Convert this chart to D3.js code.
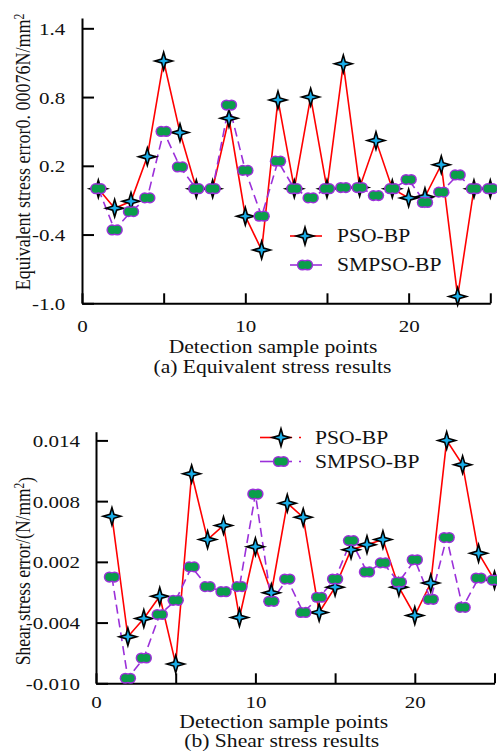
<!DOCTYPE html>
<html>
<head>
<meta charset="utf-8">
<script src="https://cdn.jsdelivr.net/npm/d3@7"></script>
<style>
  body { margin: 0; background: #fff; }
  text { font-family: "Liberation Serif", "Times New Roman", serif; fill: #111; }
</style>
</head>
<body>
<div id="Canvas"></div>
<script>
// sample points on x
let samplePoints = [1,2,3,4,5,6,7,8,9,10,11,12,13,14,15,16,17,18,19,20,21,22,23,24,25]

// (a) equivalent stress error
let equivPSO   = [0.0,-0.17,-0.11,0.28,1.115,0.49,0.0,0.0,0.615,-0.24,-0.535,0.775,0.0,0.80,0.0,1.09,0.01,0.42,0.0,-0.08,-0.07,0.21,-0.94,0.0,0.0]
let equivSMPSO = [0.0,-0.36,-0.20,-0.08,0.50,0.19,0.0,0.0,0.73,0.16,-0.24,0.24,0.0,-0.08,0.0,0.01,0.01,-0.06,0.0,0.08,-0.12,-0.03,0.12,0.0,0.0]
let equivYTicks = [1.4,0.8,0.2,-0.4,-1.0]

// (b) shear stress error
let shearPSO   = [0.0065,-0.0054,-0.0036,-0.0014,-0.0081,0.0107,0.0042,0.0056,-0.0035,0.0035,-0.00105,0.0078,0.0064,-0.0030,-0.0005,0.0032,0.0037,0.0042,-0.0005,-0.0033,-0.0001,0.0140,0.0116,0.00285,0.0002]
let shearSMPSO = [0.0005,-0.0095,-0.0075,-0.0032,-0.0018,0.0015,-0.00045,-0.00095,-0.00045,0.0087,-0.0019,0.0003,-0.0030,-0.0015,0.0003,0.0041,0.0010,0.0019,0.0,0.0022,-0.0017,0.0044,-0.0025,0.0004,0.0002]
let shearYTicks = [0.014,0.008,0.002,-0.004,-0.010]

let xTicks = [0,5,10,15,20,25]
let seriesNames = ["PSO-BP","SMPSO-BP"]

const RED = "#ff0000", PURPLE = "#9b30d9", GREEN = "#0a9e4a", BLUE = "#1aaee8"
const SX = 1.2   // the picture's text is a bit wide

let svg = d3.select("#Canvas").append("svg")
    .attr("width", 497).attr("height", 753)
    .style("background", "white")

// 4-point star path
function starPath(R, r){
    let p = ""
    for(var i = 0; i < 8; i++){
        let a = -Math.PI/2 + i*Math.PI/4
        let rr = (i % 2 == 0) ? R : r
        p += (i == 0 ? "M" : "L") + (rr*Math.cos(a)).toFixed(2) + "," + (rr*Math.sin(a)).toFixed(2)
    }
    return p + "Z"
}
let STAR = starPath(8.8, 2.8)

function drawStar(g, x, y){
    g.append("path").attr("d", STAR)
        .attr("transform", "translate(" + x + "," + y + ")")
        .attr("fill", BLUE).attr("stroke", "#000").attr("stroke-width", 1.6)
        .attr("stroke-linejoin", "miter")
}
// peanut shaped marker: two merged circles
function drawBean(g, x, y){
    let b = g.append("g").attr("transform", "translate(" + x + "," + y + ")")
    b.selectAll("circle.o").data([-2.6, 2.6]).enter().append("circle")
        .attr("cx", d=>d).attr("cy", 0).attr("r", 5.6)
        .attr("fill", PURPLE)
    b.selectAll("circle.i").data([-2.6, 2.6]).enter().append("circle")
        .attr("cx", d=>d).attr("cy", 0).attr("r", 4.1)
        .attr("fill", GREEN)
}

function stretchText(sel){
    sel.attr("transform", "scale(" + SX + ",1)")
}

function drawPanel(opt){
    let g = svg.append("g")
    let xScale = d3.scaleLinear().domain([0,25]).range(opt.xRange)
    let yScale = d3.scaleLinear().domain(opt.yDomain).range(opt.yRange)

    // y axis, ticks inward
    let yAxis = d3.axisLeft(yScale)
        .tickValues(opt.yTicks)
        .tickFormat(opt.fmt)
        .tickSize(-12).tickSizeOuter(0).tickPadding(opt.yPad)
    let ya = g.append("g")
        .attr("transform", "translate(" + opt.xRange[0] + ",0)")
        .call(yAxis)
    ya.selectAll("text").style("font-size", "17.5px").attr("dy", "0.34em").call(stretchText)

    // x axis, ticks inward
    let xAxis = d3.axisBottom(xScale)
        .tickValues(xTicks)
        .tickFormat(d => (d % 10 == 0) ? d : "")
        .tickSize(-10).tickSizeOuter(0).tickPadding(opt.xPad)
    let xa = g.append("g")
        .attr("transform", "translate(0," + opt.yRange[0] + ")")
        .call(xAxis)
    xa.selectAll("text").style("font-size", "17.5px").call(stretchText)

    g.selectAll(".domain, .tick line")
        .attr("stroke", "#000").attr("stroke-width", 2)

    // lines
    let line = d3.line().x((d,i)=>xScale(samplePoints[i])).y(d=>yScale(d))
    g.append("path").attr("d", line(opt.pso))
        .attr("fill", "none").attr("stroke", RED).attr("stroke-width", 1.6)
    g.append("path").attr("d", line(opt.smpso))
        .attr("fill", "none").attr("stroke", PURPLE).attr("stroke-width", 1.6)
        .attr("stroke-dasharray", "9,5")

    // markers
    let mk = g.append("g")
    opt.pso.forEach((d,i)=>drawStar(mk, xScale(samplePoints[i]), yScale(d)))
    opt.smpso.forEach((d,i)=>drawBean(mk, xScale(samplePoints[i]), yScale(d)))

    // legend
    let lg = g.append("g")
    seriesNames.forEach(function(name, i){
        let ly = opt.legY[i]
        let col = (i == 0) ? RED : PURPLE
        lg.append("line")
            .attr("x1", opt.legX[0]).attr("x2", opt.legX[1])
            .attr("y1", ly).attr("y2", ly)
            .attr("stroke", col).attr("stroke-width", 1.6)
        if(opt.legDot){
            lg.append("line")
                .attr("x1", opt.legDot).attr("x2", opt.legDot + 2)
                .attr("y1", ly).attr("y2", ly)
                .attr("stroke", col).attr("stroke-width", 1.6)
        }
        if(i == 0) drawStar(lg, opt.legMark, ly)
        else drawBean(lg, opt.legMark, ly)
        lg.append("text")
            .attr("transform", "translate(" + opt.legText + "," + ly + ") scale(" + SX + ",1)")
            .attr("dy", "0.35em")
            .style("font-size", "18px")
            .text(name)
    })

    // x title and caption
    g.append("text")
        .attr("transform", "translate(" + opt.titleX + "," + opt.titleY + ") scale(" + SX + ",1)")
        .attr("text-anchor", "middle").style("font-size", "18px")
        .text("Detection sample points")
    g.append("text")
        .attr("transform", "translate(" + opt.capX + "," + opt.capY + ") scale(" + SX + ",1)")
        .attr("text-anchor", "middle").style("font-size", "18px")
        .text(opt.caption)

    // y title
    let yt = g.append("text")
        .attr("transform", "translate(" + opt.ytX + "," + opt.ytY + ") rotate(-90) scale(1," + SX + ")")
        .attr("text-anchor", "middle").style("font-size", opt.ytSize)
    yt.append("tspan").text(opt.ytMain)
    yt.append("tspan").attr("dy", "-0.45em").style("font-size", "0.65em").text("2")
    if(opt.ytTail) yt.append("tspan").attr("dy", "0.45em").text(opt.ytTail)
}

drawPanel({
    xRange: [82, 490.3], yDomain: [-1.0, 1.49], yRange: [303.3, 18],
    yTicks: equivYTicks, fmt: d => d.toFixed(1), yPad: 14, xPad: 16,
    pso: equivPSO, smpso: equivSMPSO,
    legX: [290, 322], legMark: 305, legY: [236, 265], legText: 337, legDot: null,
    titleX: 273, titleY: 353, capX: 272.5, capY: 373,
    caption: "(a) Equivalent stress results",
    ytX: 30, ytY: 152, ytSize: "18px", ytMain: "Equivalent stress error0. 00076N/mm", ytTail: null
})

drawPanel({
    xRange: [96, 494.5], yDomain: [-0.010, 0.01486], yRange: [683.3, 431.7],
    yTicks: shearYTicks, fmt: d => d.toFixed(3), yPad: 13.3, xPad: 12.6,
    pso: shearPSO, smpso: shearSMPSO,
    legX: [260, 292], legMark: 281, legY: [437.5, 461.5], legText: 315, legDot: 299,
    titleX: 283.7, titleY: 728, capX: 281.7, capY: 746.5,
    caption: "(b) Shear stress results",
    ytX: 30, ytY: 571, ytSize: "17.5px", ytMain: "Shear stress error/(N/mm", ytTail: ")"
})
</script>
</body>
</html>
